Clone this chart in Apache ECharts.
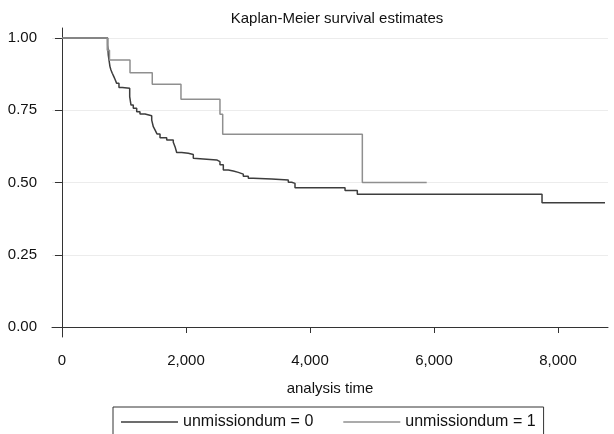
<!DOCTYPE html>
<html>
<head>
<meta charset="utf-8">
<script src="https://cdn.jsdelivr.net/npm/echarts@6/dist/echarts.min.js"></script>
<style>
  html, body { margin: 0; padding: 0; background: #fff; }
  #chart { width: 614px; height: 434px; }
</style>
</head>
<body>
<div id="chart"></div>
<script>
var fontFamily = '"Liberation Sans", Arial, sans-serif'
var axisColor = '#333'

// unmissiondum = 0
var timeGroup0 = [0, 737, 747, 758, 774, 790, 811, 831, 855, 882, 919, 973, 1092, 1113, 1150, 1205, 1258, 1339, 1447, 1473, 1500, 1532, 1581, 1689, 1795, 1823, 1850, 1931, 2037, 2118, 2145, 2495, 2548, 2602, 2682, 2763, 2844, 2924, 3005, 3085, 3382, 3650, 3705, 3758, 4565, 4763, 7742, 8758]
var survGroup0 = [1, 0.976, 0.941, 0.924, 0.901, 0.889, 0.878, 0.869, 0.857, 0.843, 0.829, 0.826, 0.797, 0.768, 0.757, 0.745, 0.737, 0.731, 0.716, 0.693, 0.682, 0.668, 0.655, 0.647, 0.639, 0.624, 0.604, 0.601, 0.597, 0.584, 0.578, 0.572, 0.561, 0.543, 0.540, 0.535, 0.529, 0.522, 0.515, 0.512, 0.509, 0.501, 0.497, 0.482, 0.472, 0.459, 0.430, 0.430]

// unmissiondum = 1
var timeGroup1 = [0, 730, 766, 1097, 1456, 1919, 2548, 2592, 4844, 5882]
var survGroup1 = [1, 0.958, 0.924, 0.880, 0.840, 0.788, 0.736, 0.667, 0.500, 0.500]

var xTicks = [0, 2000, 4000, 6000, 8000]
var yTicks = [0, 0.25, 0.5, 0.75, 1]

function pairs (xs, ys) {
  return xs.map(function (x, i) { return [x, ys[i]] })
}

var chart = echarts.init(document.getElementById('chart'))
chart.setOption({
  animation: false,
  textStyle: { fontFamily: fontFamily },
  title: {
    text: 'Kaplan-Meier survival estimates',
    left: 332,
    top: 6,
    textAlign: 'center',
    textStyle: { fontSize: 15, fontWeight: 'normal', color: '#111', fontFamily: fontFamily }
  },
  grid: { left: 52, right: 6, top: 28, bottom: 97 },
  legend: {
    left: 113,
    top: 407,
    padding: [7, 8, 10, 8],
    itemGap: 30,
    itemWidth: 57,
    itemHeight: 1.5,
    icon: 'rect',
    borderColor: axisColor,
    borderWidth: 1,
    textStyle: { fontSize: 16, color: '#111', fontFamily: fontFamily },
    data: ['unmissiondum = 0', 'unmissiondum = 1']
  },
  xAxis: {
    type: 'value',
    min: -161,
    max: 8806,
    name: 'analysis time',
    nameLocation: 'middle',
    nameGap: 44,
    nameTextStyle: { fontSize: 15, color: '#111' },
    axisLine: { show: true, lineStyle: { color: axisColor } },
    axisTick: { show: true, length: 6, customValues: xTicks, lineStyle: { color: axisColor } },
    axisLabel: {
      customValues: xTicks,
      margin: 16,
      fontSize: 15,
      color: '#111',
      formatter: function (v) { return v.toLocaleString('en-US') }
    },
    splitLine: { show: false }
  },
  yAxis: {
    type: 'value',
    min: -0.0346,
    max: 1.0346,
    axisLine: { show: true, lineStyle: { color: axisColor } },
    axisTick: { show: true, length: 7, customValues: yTicks, lineStyle: { color: axisColor } },
    axisLabel: {
      customValues: yTicks,
      margin: 15,
      fontSize: 15,
      color: '#111',
      formatter: function (v) { return v.toFixed(2) }
    },
    splitLine: { show: true, lineStyle: { color: '#ececec', width: 1 } }
  },
  series: [
    {
      name: 'unmissiondum = 0',
      type: 'line',
      step: 'end',
      symbol: 'none',
      lineStyle: { color: '#3d3d3d', width: 1.5 },
      itemStyle: { color: '#3d3d3d' },
      data: pairs(timeGroup0, survGroup0)
    },
    {
      name: 'unmissiondum = 1',
      type: 'line',
      step: 'end',
      symbol: 'none',
      lineStyle: { color: '#8f8f8f', width: 1.5 },
      itemStyle: { color: '#8f8f8f' },
      data: pairs(timeGroup1, survGroup1)
    }
  ]
})
</script>
</body>
</html>
